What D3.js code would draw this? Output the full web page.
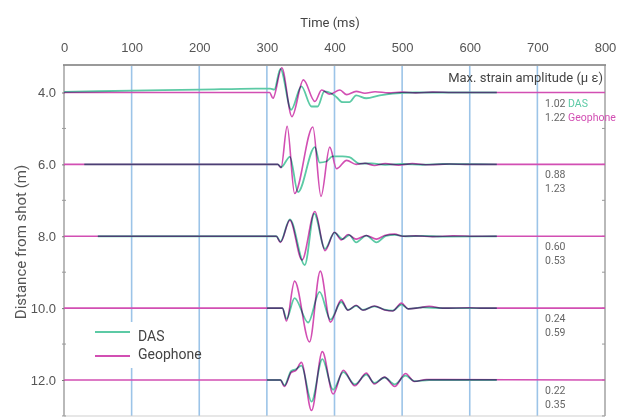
<!DOCTYPE html>
<html>
<head>
<meta charset="utf-8">
<script src="https://cdn.jsdelivr.net/npm/d3@7"></script>
<style>
  body { margin: 0; background: #ffffff; }
  svg { font-family: Roboto, "Noto Sans", sans-serif; }
</style>
</head>
<body>
<svg id="chart" width="617" height="418"></svg>
<script>

// Trace offsets (m) and the max strain amplitudes printed at right :
var distances = [4, 6, 8, 10, 12];
var dasMax = ["1.02", "0.88", "0.60", "0.24", "0.22"];
var geoMax = ["1.22", "1.23", "0.53", "0.59", "0.35"];
var timeTicks = [0, 100, 200, 300, 400, 500, 600, 700, 800];
var distTicks = [4, 6, 8, 10, 12];

// Waveforms as [time ms, deflection (m of offset, + is up)] :
var das4 = [[0,0.02],[100,0.05],[200,0.08],[295,0.11],[305,0.11],[311,0.08],[320,0.66],[336,-0.48],[351,0.17],[366,-0.39],[375,-0.39],[385,0.03],[395,-0.02],[403,-0.13],[412,-0.27],[422,-0.27],[432,-0.08],[447,-0.16],[467,-0.08],[486,-0.03],[520,0],[640,0]];
var geo4 = [[0,0],[304,0],[309,-0.16],[322,0.69],[337,-0.67],[354,0.35],[371,-0.25],[381,0.07],[393,-0.05],[408,0.07],[418,-0.06],[432,0.03],[445,-0.02],[460,0.02],[480,-0.01],[500,0.01],[520,-0.01],[545,0.01],[575,0],[800,0]];

var das6 = [[30,0],[316,0],[321,-0.08],[334,0.21],[346,-0.77],[371,0.48],[378,0.05],[388,0.08],[397,0.22],[412,0.22],[422,0.2],[437,0.02],[455,0.03],[475,-0.01],[500,0.01],[530,-0.01],[560,0.01],[640,0]];
var geo6 = [[0,0],[316,0],[321,-0.09],[330,1.06],[341,-0.81],[368,1.04],[380,-0.89],[393,0.48],[403,-0.12],[418,0.11],[432,0],[445,0.03],[459,-0.03],[475,0.02],[495,-0.02],[515,0.02],[540,-0.01],[570,0.01],[600,0],[800,0]];

var das8 = [[50,0],[314,0],[320,-0.15],[334,0.47],[356,-0.8],[370,0.63],[386,-0.35],[400,0.1],[412,-0.08],[422,0.03],[432,-0.17],[447,0.02],[462,-0.17],[476,0.01],[489,0.04],[505,0],[530,0.01],[560,-0.01],[640,0]];
var geo8 = [[0,0],[314,0],[320,-0.17],[334,0.45],[352,-0.66],[371,0.69],[386,-0.4],[400,0.11],[410,-0.1],[420,0.05],[432,-0.08],[447,0.02],[462,-0.08],[474,0.02],[489,0.06],[501,0],[520,0.01],[545,-0.01],[575,0.01],[610,0],[800,0]];

var das10 = [[300,0],[323,0],[329,-0.3],[341,0.28],[361,-0.4],[378,0.45],[394,-0.32],[410,0.17],[420,-0.05],[432,0.06],[442,-0.05],[459,0.05],[474,-0.04],[486,-0.07],[499,0.1],[509,-0.02],[530,0.02],[560,0],[640,0]];
var geo10 = [[0,0],[323,0],[329,-0.36],[341,0.75],[363,-0.94],[379,1.03],[394,-0.39],[410,0.23],[420,-0.06],[432,0.08],[442,-0.06],[459,0.06],[474,-0.05],[486,-0.08],[499,0.14],[509,-0.02],[525,0.01],[540,0.05],[560,0],[600,0.01],[620,0],[800,0]];

var das12 = [[300,0],[320,0],[326,-0.15],[336,0.25],[343,0.3],[351,0.4],[366,-0.6],[382,0.58],[398,-0.27],[413,0.22],[430,-0.12],[447,0.15],[459,-0.08],[474,0.07],[489,-0.12],[505,0.12],[518,-0.03],[540,0],[640,0]];
var geo12 = [[0,0],[320,0],[326,-0.18],[336,0.21],[343,0.27],[351,0.49],[366,-0.85],[382,0.79],[398,-0.39],[413,0.27],[430,-0.16],[447,0.19],[459,-0.11],[474,0.08],[489,-0.18],[505,0.18],[518,-0.04],[536,0.01],[560,0.01],[800,0]];

var dasTraces = [das4, das6, das8, das10, das12];
var geoTraces = [geo4, geo6, geo8, geo10, geo12];

var dasColor = "#5ccaa5";
var geoColor = "#d24fb3";

var svg = d3.select("#chart");

// Scales : time runs along the top, distance down the side
var x = d3.scaleLinear().domain([0, 800]).range([64, 605]);
var y = d3.scaleLinear().domain([4, 12]).range([92.5, 380]);
var plotTop = 65, plotBottom = 416;

// Blue vertical gridlines :
svg.append("g").selectAll("line")
   .data(timeTicks.slice(1, -1))
   .enter().append("line")
   .attr("x1", function(d) { return x(d); })
   .attr("x2", function(d) { return x(d); })
   .attr("y1", plotTop)
   .attr("y2", plotBottom)
   .style("stroke", "#9cc4e8")
   .style("stroke-width", 1.6);

// Legend background hides the gridline behind it :
svg.append("rect")
   .attr("x", 88).attr("y", 322)
   .attr("width", 100).attr("height", 46)
   .style("fill", "#ffffff");

// Frame :
svg.append("line").attr("x1", 63).attr("x2", 606).attr("y1", plotTop).attr("y2", plotTop)
   .style("stroke", "#9a9a9a").style("stroke-width", 2);
svg.append("line").attr("x1", 64).attr("x2", 64).attr("y1", plotTop).attr("y2", plotBottom)
   .style("stroke", "#8a8a8a").style("stroke-width", 1.2);
svg.append("line").attr("x1", 605).attr("x2", 605).attr("y1", plotTop).attr("y2", plotBottom)
   .style("stroke", "#8a8a8a").style("stroke-width", 1.2);
svg.append("line").attr("x1", 64).attr("x2", 605).attr("y1", plotBottom).attr("y2", plotBottom)
   .style("stroke", "#cfcfcf").style("stroke-width", 1);

// Time axis along the top, labels only :
var xAxis = d3.axisTop(x).tickValues(timeTicks).tickSize(0).tickPadding(13);
var gx = svg.append("g").attr("transform", "translate(0," + plotTop + ")").call(xAxis);
gx.select(".domain").remove();
gx.selectAll("text").style("font-size", "13px").style("fill", "#555");

svg.append("text")
   .attr("x", 330).attr("y", 27)
   .attr("text-anchor", "middle")
   .style("font-size", "13px").style("fill", "#444")
   .text("Time (ms)");

// Distance axis, major ticks labelled and minor ticks between :
var yAxis = d3.axisLeft(y).tickValues(distTicks).tickFormat(d3.format(".1f")).tickSizeInner(3).tickSizeOuter(0).tickPadding(6);
var gy = svg.append("g").attr("transform", "translate(65,0)").call(yAxis);
gy.select(".domain").remove();
gy.selectAll("line").style("stroke", "#777");
gy.selectAll("text").style("font-size", "13px").style("fill", "#555");

var minor = [5, 7, 9, 11, 13];
svg.append("g").selectAll("line")
   .data(minor)
   .enter().append("line")
   .attr("x1", 62).attr("x2", 66)
   .attr("y1", function(d) { return y(d); })
   .attr("y2", function(d) { return y(d); })
   .style("stroke", "#999");

// Right border ticks pointing inwards :
svg.append("g").selectAll("line")
   .data(distTicks.concat(minor))
   .enter().append("line")
   .attr("x1", 602).attr("x2", 605)
   .attr("y1", function(d) { return y(d); })
   .attr("y2", function(d) { return y(d); })
   .style("stroke", "#999");

svg.append("text")
   .attr("transform", "translate(26," + 242 + ") rotate(-90)")
   .attr("text-anchor", "middle")
   .style("font-size", "15px").style("fill", "#555")
   .text("Distance from shot (m)");

// Waveforms : each trace sits on its distance, DAS first then geophone
var traces = svg.append("g").style("isolation", "isolate");

distances.forEach(function(dist, i) {
  var line = d3.line()
               .x(function(d) { return x(d[0]); })
               .y(function(d) { return y(dist - d[1]); })
               .curve(d3.curveMonotoneX);

  traces.append("path")
        .datum(dasTraces[i])
        .attr("d", line)
        .style("fill", "none")
        .style("stroke", dasColor)
        .style("stroke-width", 1.8)
        .style("mix-blend-mode", "multiply");

  traces.append("path")
        .datum(geoTraces[i])
        .attr("d", line)
        .style("fill", "none")
        .style("stroke", geoColor)
        .style("stroke-width", 1.6)
        .style("mix-blend-mode", "multiply");

  // Max strain amplitudes under each trace :
  var t1 = svg.append("text")
              .attr("x", 545).attr("y", y(dist) + 14)
              .style("font-size", "10.5px").style("fill", "#666")
              .text(dasMax[i]);
  var t2 = svg.append("text")
              .attr("x", 545).attr("y", y(dist) + 28)
              .style("font-size", "10.5px").style("fill", "#666")
              .text(geoMax[i]);
  if (i === 0) {
    t1.append("tspan").style("fill", dasColor).text(" DAS");
    t2.append("tspan").style("fill", geoColor).text(" Geophone");
  }
});

svg.append("text")
   .attr("x", 603).attr("y", 82)
   .attr("text-anchor", "end")
   .style("font-size", "13px").style("fill", "#444")
   .text("Max. strain amplitude (\u03bc \u03b5)");

// Legend :
var legend = [["DAS", dasColor, 332, 341], ["Geophone", geoColor, 356, 359]];
legend.forEach(function(l) {
  svg.append("line")
     .attr("x1", 95).attr("x2", 130)
     .attr("y1", l[2]).attr("y2", l[2])
     .style("stroke", l[1]).style("stroke-width", 2.2);
  svg.append("text")
     .attr("x", 138).attr("y", l[3])
     .style("font-size", "14px").style("fill", "#444")
     .text(l[0]);
});

</script>
</body>
</html>
